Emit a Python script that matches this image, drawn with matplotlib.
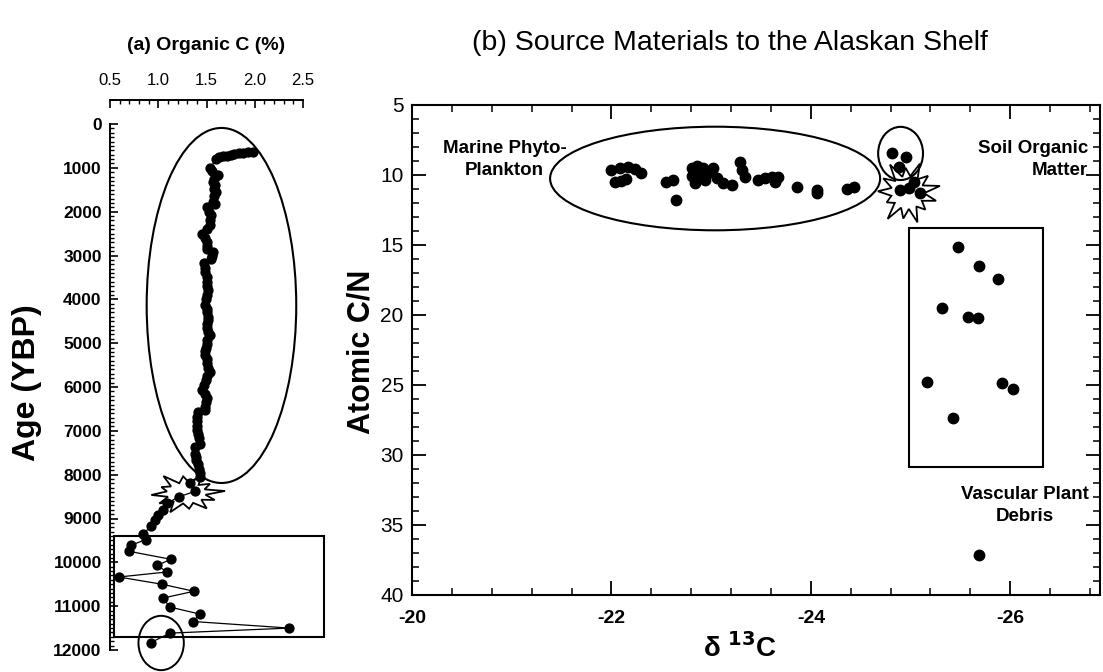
import numpy as np
import matplotlib
matplotlib.use("Agg")
import matplotlib.pyplot as plt
from matplotlib.patches import Ellipse, Rectangle, Polygon
from matplotlib import transforms
from matplotlib.ticker import MultipleLocator

plt.rcParams['font.family'] = ['Liberation Sans', 'DejaVu Sans']
plt.rcParams['mathtext.default'] = 'regular'
plt.rcParams['axes.unicode_minus'] = False

# ---- (a) down-core organic carbon profile ----
age_ybp = [650, 650, 660, 670, 690, 700, 720, 740, 760, 800,
           1000, 1080, 1160, 1250, 1320, 1400, 1480, 1560, 1650, 1780,
           1830, 1900, 2000, 2080, 2200, 2300, 2400, 2500, 2600, 2690,
           2780, 2850, 2920, 3000, 3070, 3180, 3280, 3370, 3480, 3600,
           3700, 3790, 3900, 4000, 4130, 4220, 4300, 4400, 4470, 4560,
           4650, 4740, 4820, 4920, 5010, 5100, 5180, 5270, 5370, 5460,
           5560, 5650, 5750, 5850, 5960, 6070, 6160, 6260, 6350, 6450,
           6530, 6580, 6680, 6780, 6880, 6980, 7080, 7170, 7290, 7370,
           7520, 7600, 7670, 7760, 7860, 7960, 8050, 8200, 8380, 8510,
           8650, 8810, 8930, 9040, 9180, 9345, 9480, 9610, 9750, 9930,
           10070, 10220, 10335, 10500, 10660, 10815, 11020, 11180, 11350, 11500,
           11615, 11835]
organic_c = [1.98, 1.93, 1.88, 1.84, 1.79, 1.75, 1.71, 1.67, 1.63, 1.60,
             1.54, 1.56, 1.62, 1.58, 1.57, 1.59, 1.58, 1.60, 1.58, 1.57,
             1.59, 1.50, 1.53, 1.55, 1.54, 1.54, 1.50, 1.45, 1.48, 1.50,
             1.50, 1.51, 1.57, 1.56, 1.55, 1.47, 1.48, 1.48, 1.50, 1.50,
             1.51, 1.52, 1.50, 1.49, 1.48, 1.50, 1.51, 1.52, 1.52, 1.50,
             1.50, 1.52, 1.54, 1.51, 1.50, 1.49, 1.48, 1.48, 1.50, 1.51,
             1.52, 1.54, 1.51, 1.49, 1.47, 1.45, 1.48, 1.50, 1.49, 1.48,
             1.48, 1.41, 1.40, 1.40, 1.40, 1.40, 1.41, 1.42, 1.43, 1.38,
             1.38, 1.39, 1.39, 1.41, 1.42, 1.43, 1.43, 1.33, 1.38, 1.21,
             1.09, 1.05, 1.00, 0.97, 0.93, 0.84, 0.87, 0.72, 0.70, 1.13,
             0.99, 1.09, 0.59, 1.04, 1.37, 1.05, 1.12, 1.43, 1.36, 2.36,
             1.12, 0.92]

# ---- (b) source end-members: d13C vs atomic C/N ----
d13c_marine = [-22.00, -22.09, -22.17, -22.24, -22.30, -22.04, -22.10, -22.15,
               -22.55, -22.62, -22.65, -22.81, -22.86, -22.81, -22.87, -22.84,
               -22.92, -22.92, -22.97, -23.02, -22.94, -23.06, -23.12, -23.21,
               -23.29, -23.31, -23.34, -23.47, -23.54, -23.61, -23.64, -23.67,
               -23.86, -24.06, -24.06, -24.36, -24.43]
cn_marine = [9.64, 9.52, 9.45, 9.60, 9.88, 10.48, 10.40, 10.30,
             10.48, 10.36, 11.79, 9.52, 9.36, 10.07, 9.88, 10.60,
             10.24, 9.52, 9.88, 9.52, 10.36, 10.24, 10.55, 10.71,
             9.05, 9.64, 10.12, 10.36, 10.24, 10.12, 10.48, 10.12,
             10.83, 11.05, 11.31, 11.02, 10.83]
d13c_soil = [-24.81, -24.95, -24.88, -24.89, -24.98, -25.03, -25.09]
cn_soil = [8.45, 8.69, 9.40, 11.07, 10.95, 10.48, 11.31]
d13c_vascular = [-25.48, -25.69, -25.88, -25.32, -25.58, -25.68,
                 -25.16, -25.92, -26.03, -25.43, -25.69]
cn_vascular = [15.17, 16.50, 17.40, 19.52, 20.17, 20.24,
               24.80, 24.88, 25.26, 27.38, 37.14]

W, H = 1103, 672
fig = plt.figure(figsize=(W / 100, H / 100), dpi=100)


def px_axes(left, top, right, bottom):
    return fig.add_axes([left / W, 1 - bottom / H, (right - left) / W, (bottom - top) / H])


def starburst(ax, cx, cy, rx, ry, spikes, inner=0.5, rot=0.0, lw=1.3):
    """Jagged outline centred on a data point; radii given in inches."""
    n = len(spikes)
    verts = []
    for i, f in enumerate(spikes):
        a_out = rot + 2 * np.pi * i / n
        a_in = rot + 2 * np.pi * (i + 0.5) / n
        verts.append((rx * f * np.cos(a_out), ry * f * np.sin(a_out)))
        verts.append((rx * inner * np.cos(a_in), ry * inner * np.sin(a_in)))
    tr = fig.dpi_scale_trans + transforms.ScaledTranslation(cx, cy, ax.transData)
    ax.add_patch(Polygon(verts, closed=True, facecolor='white', edgecolor='black',
                         lw=lw, transform=tr, zorder=2, clip_on=False))


# ================= panel (a) =================
axa = px_axes(110, 124, 303, 650)
axa.set_xlim(0.5, 2.5)
axa.set_ylim(12000, 0)
for s in ('right', 'bottom'):
    axa.spines[s].set_visible(False)
axa.spines['top'].set_position(('outward', 17))
for s in ('top', 'left'):
    axa.spines[s].set_linewidth(1.4)
axa.xaxis.tick_top()
axa.xaxis.set_label_position('top')
axa.xaxis.set_minor_locator(MultipleLocator(0.1))
axa.yaxis.set_major_locator(MultipleLocator(1000))
axa.yaxis.set_minor_locator(MultipleLocator(100))
axa.set_xticks([0.5, 1.0, 1.5, 2.0, 2.5])
axa.set_xticklabels(['0.5', '1.0', '1.5', '2.0', '2.5'])
axa.tick_params(axis='x', which='major', direction='in', length=6, width=1.2,
                labelsize=12, pad=9)
axa.tick_params(axis='x', which='minor', direction='in', length=3, width=1.0)
axa.tick_params(axis='y', which='major', direction='in', length=6, width=1.2,
                labelsize=12.5, pad=6)
axa.tick_params(axis='y', which='minor', direction='in', length=3, width=1.0)
for lab in axa.get_yticklabels():
    lab.set_fontweight('bold')
axa.patch.set_visible(False)

axa.plot(organic_c, age_ybp, color='black', lw=0.9, marker='o', ms=6.4,
         mfc='black', mec='black', zorder=4, clip_on=False)
axa.add_patch(Ellipse((1.655, 4140), 1.55, 8100, fill=False, ec='black', lw=1.5,
                      zorder=3, clip_on=False))
axa.add_patch(Rectangle((0.54, 9395), 2.18, 2300, fill=False, ec='black', lw=1.5,
                        zorder=3, clip_on=False))
axa.add_patch(Ellipse((1.03, 11840), 0.47, 1240, fill=False, ec='black', lw=1.4,
                      zorder=3, clip_on=False))
starburst(axa, 1.29, 8420, 0.39, 0.21,
          [1.0, 0.75, 0.95, 0.8, 1.0, 0.7, 0.9, 0.85, 1.0, 0.75, 0.9, 0.8],
          inner=0.5, rot=0.1)

fig.text(206 / W, 1 - 45 / H, '(a) Organic C (%)', ha='center', va='center',
         fontsize=14, fontweight='bold')
fig.text(27 / W, 1 - 383 / H, 'Age (YBP)', ha='center', va='center', rotation=90,
         fontsize=23, fontweight='bold')

# ================= panel (b) =================
axb = px_axes(412, 105, 1100, 595)
axb.set_xlim(-20, -26.9)
axb.set_ylim(40, 5)
for s in axb.spines.values():
    s.set_linewidth(1.5)
axb.xaxis.set_major_locator(MultipleLocator(2))
axb.xaxis.set_minor_locator(MultipleLocator(0.4))
axb.yaxis.set_major_locator(MultipleLocator(5))
axb.yaxis.set_minor_locator(MultipleLocator(1))
axb.tick_params(which='both', direction='in', top=True, right=True)
axb.tick_params(which='major', length=10, width=1.3)
axb.tick_params(which='minor', length=5, width=1.1)
axb.tick_params(axis='x', labelsize=14, pad=11)
axb.tick_params(axis='y', labelsize=15, pad=6)
for lab in axb.get_xticklabels():
    lab.set_fontweight('bold')

dot = dict(ls='none', marker='o', ms=7.5, mfc='black', mec='black', zorder=4)
axb.plot(d13c_marine, cn_marine, **dot)
axb.plot(d13c_soil, cn_soil, **dot)
axb.plot(d13c_vascular, cn_vascular, **dot)

axb.add_patch(Ellipse((-23.04, 10.25), 3.31, 7.4, fill=False, ec='black', lw=1.5, zorder=3))
axb.add_patch(Ellipse((-24.90, 8.46), 0.45, 3.8, fill=False, ec='black', lw=1.5, zorder=3))
starburst(axb, -24.97, 11.25, 0.33, 0.33,
          [1.0, 0.8, 0.95, 0.75, 1.0, 0.85, 0.9, 0.7, 1.0, 0.8, 0.95, 0.75, 0.9],
          inner=0.5, rot=0.2)
axb.add_patch(Rectangle((-24.98, 13.8), -1.35, 17.05, fill=False, ec='black', lw=1.5, zorder=3))

lab_kw = dict(va='center', fontsize=13.5, fontweight='bold', linespacing=1.35)
axb.text(-20.93, 8.9, 'Marine Phyto-\nPlankton', ha='center', multialignment='center', **lab_kw)
axb.text(-26.78, 8.9, 'Soil Organic\nMatter', ha='right', multialignment='right', **lab_kw)
axb.text(-26.15, 33.6, 'Vascular Plant\nDebris', ha='center', multialignment='center', **lab_kw)

fig.text(730 / W, 1 - 43 / H, '(b) Source Materials to the Alaskan Shelf',
         ha='center', va='center', fontsize=20.5)
fig.text(362 / W, 1 - 352 / H, 'Atomic C/N', ha='center', va='center', rotation=90,
         fontsize=22, fontweight='bold')
fig.text(740 / W, 1 - 648 / H, r'δ $^{\mathbf{13}}$C', ha='center', va='center',
         fontsize=20, fontweight='bold')

fig.savefig('out.png', dpi=100)
